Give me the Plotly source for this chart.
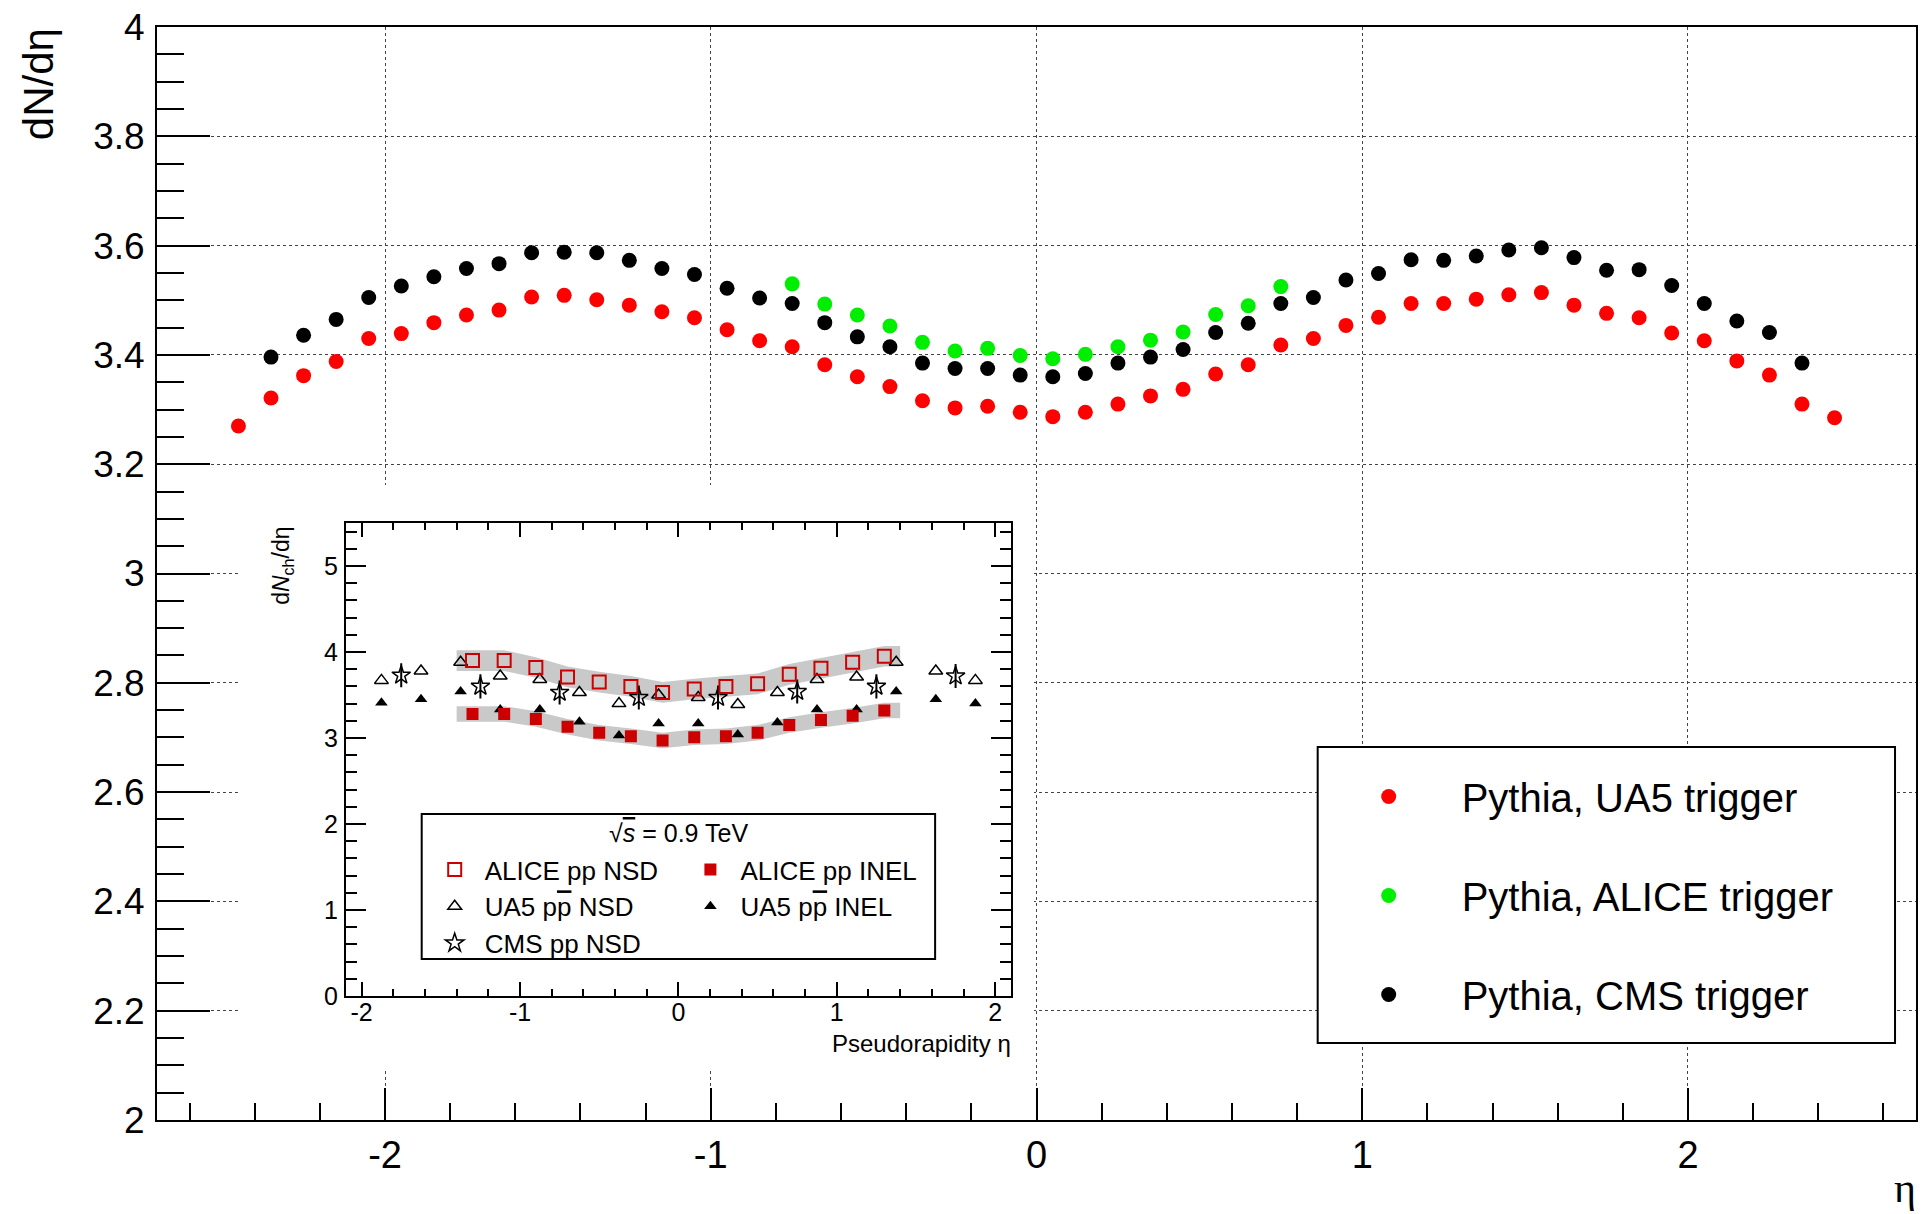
import plotly.graph_objects as go

# ---------------- data ----------------
eta_ua5trig = [-2.45, -2.35, -2.25, -2.15, -2.05, -1.95, -1.85, -1.75, -1.65, -1.55,
               -1.45, -1.35, -1.25, -1.15, -1.05, -0.95, -0.85, -0.75, -0.65, -0.55,
               -0.45, -0.35, -0.25, -0.15, -0.05, 0.05, 0.15, 0.25, 0.35, 0.45,
               0.55, 0.65, 0.75, 0.85, 0.95, 1.05, 1.15, 1.25, 1.35, 1.45,
               1.55, 1.65, 1.75, 1.85, 1.95, 2.05, 2.15, 2.25, 2.35, 2.45]
dndeta_ua5trig = [3.270, 3.321, 3.362, 3.388, 3.430, 3.439, 3.459, 3.473, 3.482, 3.506,
                  3.509, 3.501, 3.491, 3.479, 3.468, 3.446, 3.426, 3.415, 3.382, 3.360,
                  3.342, 3.316, 3.303, 3.306, 3.295, 3.287, 3.295, 3.310, 3.325, 3.337,
                  3.365, 3.382, 3.418, 3.430, 3.454, 3.469, 3.494, 3.494, 3.502, 3.510,
                  3.514, 3.491, 3.476, 3.468, 3.440, 3.426, 3.389, 3.363, 3.310, 3.285]

eta_alicetrig = [-0.75, -0.65, -0.55, -0.45, -0.35, -0.25, -0.15, -0.05,
                 0.05, 0.15, 0.25, 0.35, 0.45, 0.55, 0.65, 0.75]
dndeta_alicetrig = [3.530, 3.493, 3.473, 3.453, 3.423, 3.407, 3.412, 3.399,
                    3.393, 3.401, 3.415, 3.427, 3.442, 3.474, 3.490, 3.525]

eta_cmstrig = [-2.35, -2.25, -2.15, -2.05, -1.95, -1.85, -1.75, -1.65, -1.55, -1.45,
               -1.35, -1.25, -1.15, -1.05, -0.95, -0.85, -0.75, -0.65, -0.55, -0.45,
               -0.35, -0.25, -0.15, -0.05, 0.05, 0.15, 0.25, 0.35, 0.45, 0.55,
               0.65, 0.75, 0.85, 0.95, 1.05, 1.15, 1.25, 1.35, 1.45, 1.55,
               1.65, 1.75, 1.85, 1.95, 2.05, 2.15, 2.25, 2.35]
dndeta_cmstrig = [3.396, 3.436, 3.465, 3.505, 3.526, 3.543, 3.558, 3.567, 3.587, 3.588,
                  3.587, 3.573, 3.558, 3.547, 3.522, 3.504, 3.494, 3.459, 3.433, 3.415,
                  3.385, 3.375, 3.375, 3.363, 3.360, 3.366, 3.385, 3.396, 3.410, 3.441,
                  3.458, 3.494, 3.505, 3.537, 3.549, 3.574, 3.573, 3.581, 3.592, 3.596,
                  3.578, 3.555, 3.556, 3.527, 3.494, 3.462, 3.441, 3.385]

main_xtickvals = [-2, -1, 0, 1, 2]
main_xticktext = ["-2", "-1", "0", "1", "2"]
main_ytickvals = [2.0, 2.2, 2.4, 2.6, 2.8, 3.0, 3.2, 3.4, 3.6, 3.8, 4.0]
main_yticktext = ["2", "2.2", "2.4", "2.6", "2.8", "3", "3.2", "3.4", "3.6", "3.8", "4"]

# inset (measured data)
alice_eta = [-1.3, -1.1, -0.9, -0.7, -0.5, -0.3, -0.1, 0.1, 0.3, 0.5, 0.7, 0.9, 1.1, 1.3]
alice_nsd = [3.90, 3.90, 3.82, 3.71, 3.65, 3.60, 3.53, 3.57, 3.60, 3.63, 3.74, 3.81, 3.88, 3.95]
alice_inel = [3.28, 3.28, 3.22, 3.13, 3.06, 3.02, 2.97, 3.01, 3.02, 3.06, 3.15, 3.21, 3.26, 3.32]
alice_nsd_syst = 0.12
alice_inel_syst = 0.09
alice_band_edges = [-1.4, 1.4]

ua5_eta = [-1.875, -1.625, -1.375, -1.125, -0.875, -0.625, -0.375, -0.125,
           0.125, 0.375, 0.625, 0.875, 1.125, 1.375, 1.625, 1.875]
ua5_nsd = [3.67, 3.78, 3.88, 3.72, 3.68, 3.53, 3.40, 3.50,
           3.47, 3.39, 3.53, 3.68, 3.71, 3.88, 3.78, 3.67]
ua5_inel = [3.41, 3.45, 3.54, 3.33, 3.33, 3.19, 3.03, 3.17,
            3.17, 3.04, 3.18, 3.33, 3.33, 3.54, 3.45, 3.40]

cms_eta = [-1.75, -1.25, -0.75, -0.25, 0.25, 0.75, 1.25, 1.75]
cms_nsd = [3.73, 3.60, 3.53, 3.47, 3.47, 3.54, 3.60, 3.72]
cms_err = [0.14, 0.14, 0.14, 0.14, 0.14, 0.14, 0.14, 0.14]

inset_xtickvals = [-2, -1, 0, 1, 2]
inset_xticktext = ["-2", "-1", "0", "1", "2"]
inset_ytickvals = [0, 1, 2, 3, 4, 5]
inset_yticktext = ["0", "1", "2", "3", "4", "5"]

# ---------------- layout geometry (pixels) ----------------
W, H = 1922, 1214
L, R, T, B = 157, 1918, 27, 1120
FONT = "Liberation Sans, Arial, Helvetica, sans-serif"


def px(x):
    return (x - L) / (R - L)


def py(y):
    return (B - y) / (B - T)


fig = go.Figure()

# main plot traces
fig.add_trace(go.Scatter(
    x=eta_ua5trig, y=dndeta_ua5trig, mode="markers", name="Pythia, UA5 trigger",
    marker=dict(symbol="circle", size=15, color="#ff0000"),
    legend="legend", legendgroup="g1"))
fig.add_trace(go.Scatter(
    x=eta_alicetrig, y=dndeta_alicetrig, mode="markers", name="Pythia, ALICE trigger",
    marker=dict(symbol="circle", size=15, color="#00ee00"),
    legend="legend", legendgroup="g2"))
fig.add_trace(go.Scatter(
    x=eta_cmstrig, y=dndeta_cmstrig, mode="markers", name="Pythia, CMS trigger",
    marker=dict(symbol="circle", size=15, color="#000000"),
    legend="legend", legendgroup="g3"))

# blank subplot used as the white background of the inset picture
fig.add_trace(go.Scatter(x=[], y=[], xaxis="x2", yaxis="y2", showlegend=False,
                         hoverinfo="skip"))


def band(vals, err):
    xs = [alice_band_edges[0]] + alice_eta + [alice_band_edges[1]]
    ext = [vals[0]] + vals + [vals[-1]]
    up = [v + err for v in ext]
    lo = [v - err for v in ext]
    return xs + xs[::-1], up + lo[::-1]


bx, by = band(alice_nsd, alice_nsd_syst)
fig.add_trace(go.Scatter(x=bx, y=by, xaxis="x3", yaxis="y3", mode="lines", fill="toself",
                         fillcolor="#c9c9c9", line=dict(width=0), showlegend=False,
                         hoverinfo="skip"))
bx, by = band(alice_inel, alice_inel_syst)
fig.add_trace(go.Scatter(x=bx, y=by, xaxis="x3", yaxis="y3", mode="lines", fill="toself",
                         fillcolor="#c9c9c9", line=dict(width=0), showlegend=False,
                         hoverinfo="skip"))

fig.add_trace(go.Scatter(
    x=ua5_eta, y=ua5_nsd, xaxis="x3", yaxis="y3", mode="markers",
    name="UA5 p<span style='text-decoration:overline'>p</span> NSD",
    marker=dict(symbol="triangle-up-open", size=12, color="black", line=dict(width=1.5)),
    legend="legend2", legendgroup="i2", legendrank=2))
fig.add_trace(go.Scatter(
    x=ua5_eta, y=ua5_inel, xaxis="x3", yaxis="y3", mode="markers",
    name="UA5 p<span style='text-decoration:overline'>p</span> INEL",
    marker=dict(symbol="triangle-up", size=11, color="black"),
    legend="legend3", legendgroup="i5", legendrank=5))
fig.add_trace(go.Scatter(
    x=cms_eta, y=cms_nsd, xaxis="x3", yaxis="y3", mode="markers",
    name="CMS pp NSD",
    error_y=dict(type="data", array=cms_err, color="black", thickness=2, width=0),
    marker=dict(symbol="star-open", size=14, color="black", line=dict(width=1.5)),
    legend="legend2", legendgroup="i3", legendrank=3))
fig.add_trace(go.Scatter(
    x=alice_eta, y=alice_nsd, xaxis="x3", yaxis="y3", mode="markers",
    name="ALICE pp NSD",
    marker=dict(symbol="square-open", size=13, color="#cc0000", line=dict(width=2)),
    legend="legend2", legendgroup="i1", legendrank=1))
fig.add_trace(go.Scatter(
    x=alice_eta, y=alice_inel, xaxis="x3", yaxis="y3", mode="markers",
    name="ALICE pp INEL",
    marker=dict(symbol="square", size=12, color="#cc0000"),
    legend="legend3", legendgroup="i4", legendrank=4))

# ---------------- axes ----------------
axis_common = dict(showline=True, linecolor="black", zeroline=False)

fig.update_layout(
    xaxis=dict(
        **axis_common, linewidth=2, mirror=True, domain=[0, 1], anchor="y",
        range=[-2.7, 2.7], tickmode="array", tickvals=main_xtickvals,
        ticktext=main_xticktext, ticks="inside", ticklen=32, tickwidth=1.5,
        tickcolor="black", ticklabelstandoff=0,
        tickfont=dict(family=FONT, size=38, color="black"),
        showgrid=True, gridcolor="#444444", griddash="dot", gridwidth=1,
        minor=dict(tickmode="linear", tick0=0, dtick=0.2, ticks="inside", ticklen=17,
                   tickwidth=1.5, tickcolor="black", showgrid=False),
    ),
    yaxis=dict(
        **axis_common, linewidth=2, mirror=True, domain=[0, 1], anchor="x",
        range=[2.0, 4.0], tickmode="array", tickvals=main_ytickvals,
        ticktext=main_yticktext, ticks="inside", ticklen=53, tickwidth=2,
        tickcolor="black", ticklabelstandoff=3,
        tickfont=dict(family=FONT, size=37, color="black"),
        showgrid=True, gridcolor="#444444", griddash="dot", gridwidth=1,
        minor=dict(tickmode="linear", tick0=0, dtick=0.05, ticks="inside", ticklen=27,
                   tickwidth=2, tickcolor="black", showgrid=False),
    ),
    xaxis2=dict(domain=[px(241), px(1035)], anchor="y2", visible=False, range=[0, 1]),
    yaxis2=dict(domain=[py(1070), py(485)], anchor="x2", visible=False, range=[0, 1]),
    xaxis3=dict(
        **axis_common, linewidth=2, mirror="ticks", domain=[px(346), px(1012)],
        anchor="y3", range=[-2.1, 2.1], tickmode="array", tickvals=inset_xtickvals,
        ticktext=inset_xticktext, ticks="inside", ticklen=14, tickwidth=1.5,
        tickcolor="black", ticklabelstandoff=-7,
        tickfont=dict(family=FONT, size=25, color="black"), showgrid=False,
        minor=dict(tickmode="linear", tick0=0, dtick=0.2, ticks="inside", ticklen=7,
                   tickwidth=1.5, tickcolor="black", showgrid=False),
    ),
    yaxis3=dict(
        **axis_common, linewidth=2, mirror="ticks", domain=[py(996), py(523)],
        anchor="x3", range=[0, 5.5], tickmode="array", tickvals=inset_ytickvals,
        ticktext=inset_yticktext, ticks="inside", ticklen=20, tickwidth=1.5,
        tickcolor="black", ticklabelstandoff=1,
        tickfont=dict(family=FONT, size=25, color="black"), showgrid=False,
        minor=dict(tickmode="linear", tick0=0, dtick=0.2, ticks="inside", ticklen=11,
                   tickwidth=1.5, tickcolor="black", showgrid=False),
    ),
)

# ---------------- legends ----------------
fig.update_layout(
    legend=dict(
        x=px(1317), y=py(764), xanchor="left", yanchor="top",
        bgcolor="rgba(0,0,0,0)", borderwidth=0, itemwidth=136,
        traceorder="grouped", tracegroupgap=44,
        font=dict(family=FONT, size=40, color="black"),
    ),
    legend2=dict(
        x=px(425), y=py(846), xanchor="left", yanchor="top",
        bgcolor="rgba(0,0,0,0)", borderwidth=0, itemwidth=50,
        traceorder="grouped", tracegroupgap=0,
        font=dict(family=FONT, size=26, color="black"),
    ),
    legend3=dict(
        x=px(681), y=py(846), xanchor="left", yanchor="top",
        bgcolor="rgba(0,0,0,0)", borderwidth=0, itemwidth=50,
        traceorder="grouped", tracegroupgap=0,
        font=dict(family=FONT, size=26, color="black"),
    ),
)

# legend boxes
fig.add_shape(type="rect", xref="paper", yref="paper",
              x0=px(1319), x1=px(1897), y0=py(1043), y1=py(747),
              line=dict(color="black", width=2), fillcolor="white", layer="above")
fig.add_shape(type="rect", xref="paper", yref="paper",
              x0=px(422), x1=px(936), y0=py(959), y1=py(814),
              line=dict(color="black", width=2), fillcolor="white", layer="above")

# ---------------- text ----------------
fig.add_annotation(text="dN/dη", xref="paper", yref="paper", x=px(38), y=py(84),
                   xanchor="center", yanchor="middle", textangle=-90, showarrow=False,
                   font=dict(family=FONT, size=42, color="black"))
fig.add_annotation(text="η", xref="paper", yref="paper", x=px(1907), y=py(1213),
                   xanchor="center", yanchor="bottom", showarrow=False,
                   font=dict(family="Liberation Serif, Times New Roman, serif", size=42,
                             color="black"))
fig.add_annotation(text="d<i>N</i><sub>ch</sub>/dη", xref="paper", yref="paper",
                   x=px(282), y=py(566), xanchor="center", yanchor="middle",
                   textangle=-90, showarrow=False,
                   font=dict(family=FONT, size=23, color="black"))
fig.add_annotation(text="Pseudorapidity η", xref="paper", yref="paper",
                   x=px(1014), y=py(1043), xanchor="right", yanchor="middle",
                   showarrow=False, font=dict(family=FONT, size=24, color="black"))
fig.add_annotation(text="√<span style='text-decoration:overline'><i>s</i></span> = 0.9 TeV",
                   xref="paper", yref="paper", x=px(679), y=py(833),
                   xanchor="center", yanchor="middle", showarrow=False,
                   font=dict(family=FONT, size=25, color="black"))

fig.update_layout(
    width=W, height=H, autosize=False,
    margin=dict(l=L, r=W - R, t=T, b=H - B, pad=0),
    paper_bgcolor="white", plot_bgcolor="#ffffff",
    font=dict(family=FONT, color="black"),
    showlegend=True,
)

fig.write_html("out.html", config={"displayModeBar": False},
               post_script="document.body.style.margin='0';document.body.style.overflow='hidden';")
